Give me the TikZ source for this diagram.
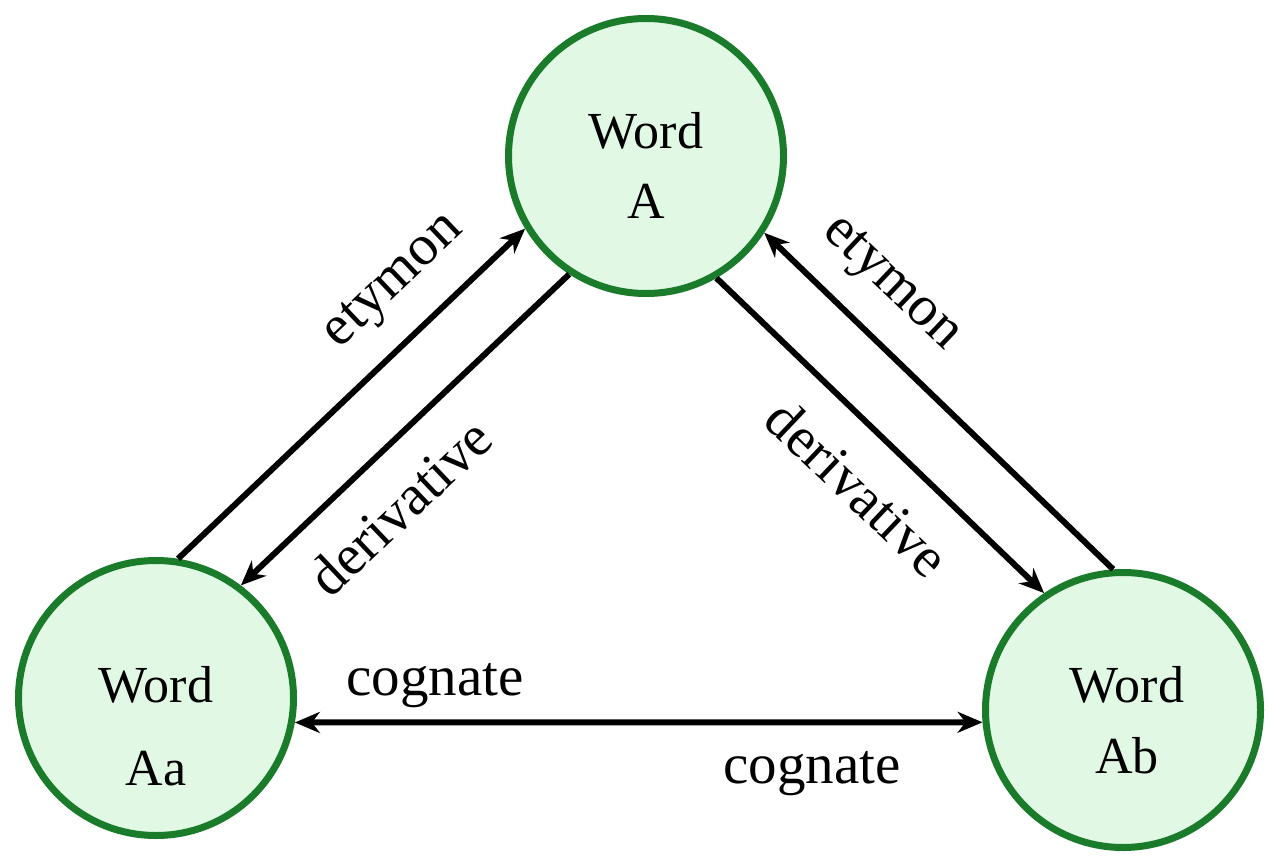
\documentclass[tikz,border=0pt]{standalone}
\usepackage{fontspec}
\setmainfont{Liberation Serif}
\usetikzlibrary{arrows.meta}
\definecolor{nodefill}{HTML}{E1F8E4}
\definecolor{nodeline}{HTML}{1A7B2A}
\begin{document}
\begin{tikzpicture}[x=1pt,y=-1pt,
  word/.style={circle, draw=nodeline, fill=nodefill, line width=7pt,
    minimum size=275pt, inner sep=0pt},
  wtext/.style={anchor=base, inner sep=0pt, font=\fontsize{52}{60}\selectfont},
  rel/.style={line width=6pt, -{Stealth[length=25pt,width=21pt,inset=8pt]}},
  lab/.style={font=\fontsize{57}{60}\selectfont, inner sep=0pt}]
\useasboundingbox (0,0) rectangle (1280,867);
\node[word] (A) at (646,156) {};
\node[word] (Aa) at (156,698) {};
\node[word] (Ab) at (1123,710) {};
\node[wtext] (A1) at (646,148) {Word};
\node[wtext] (A2) at (646,218) {A};
\node[wtext] (Aa1) at (156,702) {Word};
\node[wtext] (Aa2) at (156,785) {Aa};
\node[wtext] (Ab1) at (1127,702) {Word};
\node[wtext] (Ab2) at (1127,773) {Ab};
\draw[rel] (Aa.81) -- (A.211);
\draw[rel] (A.237) -- (Aa.53);
\draw[rel] (Ab.94) -- (A.327);
\draw[rel] (A.300) -- (Ab.124);
\draw[line width=6pt, {Stealth[length=25pt,width=21pt,inset=8pt]}-{Stealth[length=25pt,width=21pt,inset=8pt]}] (Aa.-10) -- (Ab.185.3);
\node[lab, rotate=43.5] (l1) at (395,283) {etymon};
\node[lab, rotate=43.5] (l2) at (400,507) {derivative};
\node[lab, rotate=-43.5] (l3) at (890,285) {etymon};
\node[lab, rotate=-43.5] (l4) at (858,488) {derivative};
\node[lab, anchor=base] (l5) at (435,695) {cognate};
\node[lab, anchor=base] (l6) at (812,783) {cognate};
\end{tikzpicture}
\end{document}
